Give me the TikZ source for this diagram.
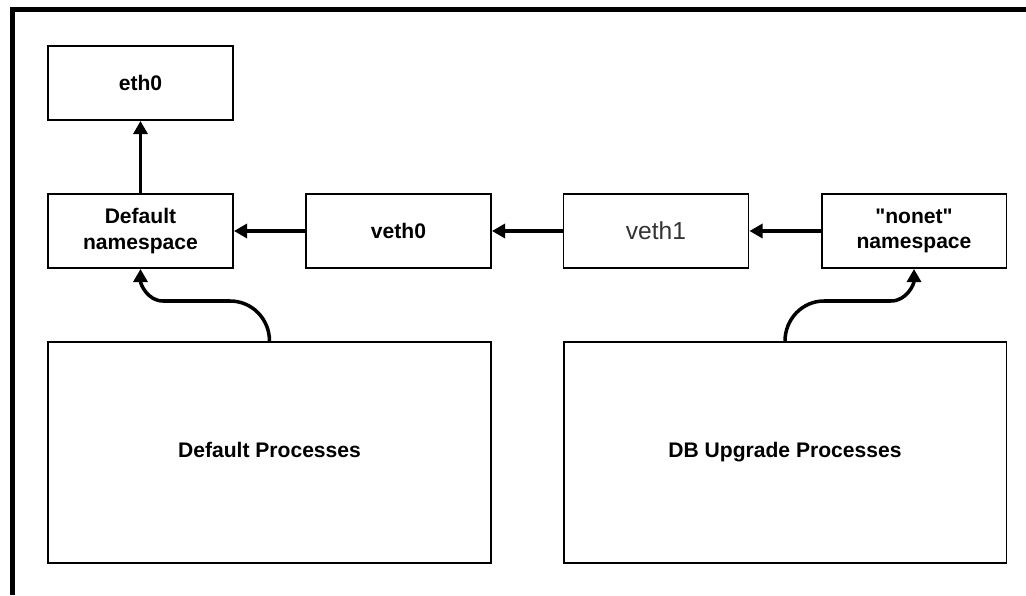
\documentclass[tikz,border=0pt]{standalone}
\usepackage{fontspec}
\setmainfont{Liberation Sans}[Ligatures=TeXOff]
\usetikzlibrary{arrows.meta}
\tikzset{
	smallbox/.style={draw, line width=1.1pt, minimum width=3.7cm, minimum height=1.48cm, inner sep=0pt, align=center, font=\fontsize{12}{14.5}\selectfont\bfseries},
	bigbox/.style={draw, line width=1.1pt, minimum width=8.86cm, minimum height=4.42cm, inner sep=0pt, text height=9pt, text depth=3pt, font=\fontsize{12}{14.5}\selectfont\bfseries},
	link/.style={line width=2pt, -{Triangle[length=7.5pt,width=8pt]}},
}

\begin{document}
\begin{tikzpicture}[x=0.02cm, y=0.02cm]
		%%%%% START %%%%%
		\useasboundingbox (0, 0) rectangle (1026, 595);
		
		\draw[line width=2.5pt] (12.5, 0) -- (12.5, 585.5) -- (1026, 585.5);
		
		\node[smallbox] (eth) at (140.5, 512) {eth0};
		\node[smallbox] (dns) at (140.5, 364) {Default\\namespace};
		\node[smallbox] (vethA) at (398.5, 364) {veth0};
		\node[smallbox, font=\fontsize{14}{16}\selectfont, text=black!80] (vethB) at (656, 364) {veth1};
		\node[smallbox] (nns) at (914, 364) {"nonet"\\namespace};
		
		\node[bigbox] (dproc) at (269.5, 142.5) {Default Processes};
		\node[bigbox] (uproc) at (785, 142.5) {DB Upgrade Processes};
		
		\draw[link] (dns) -- (eth);
		\draw[link] (vethA) -- (dns);
		\draw[link] (vethB) -- (vethA);
		\draw[link] (nns) -- (vethB);
		
		\coordinate (dbendA) at (230, 294);
		\coordinate (dbendB) at (163, 294);
		\draw[link] (dproc.north) to[out=90, in=0] (dbendA) -- (dbendB) to[out=180, in=-90] (dns.south);
		
		\coordinate (ubendA) at (824, 294);
		\coordinate (ubendB) at (891, 294);
		\draw[link] (uproc.north) to[out=90, in=180] (ubendA) -- (ubendB) to[out=0, in=-90] (nns.south);
		
		%%%%% END %%%%%
\end{tikzpicture}
\end{document}
